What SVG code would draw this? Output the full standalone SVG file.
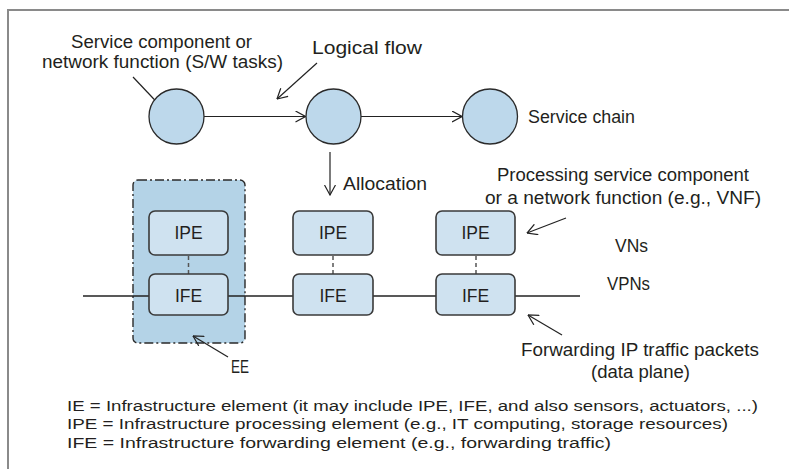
<svg xmlns="http://www.w3.org/2000/svg" width="789" height="469" viewBox="0 0 789 469">
<style>
text{font-family:"Liberation Sans","Open Sans",sans-serif;fill:#231f20}
.lbl{font-size:17.5px}
.box{font-size:17.5px;text-anchor:middle}
.leg{font-size:15.5px}
.circ{fill:#bdd8eb;stroke:#2a2a2a;stroke-width:1.3}
.el{fill:#cfe2f0;stroke:#3a3a3a;stroke-width:1.6}
.ln{stroke:#222;stroke-width:1.3;fill:none}
.arw{stroke:#222;stroke-width:1.2;fill:none;marker-end:url(#ah)}
.dsh{stroke:#555;stroke-width:1.5;stroke-dasharray:4 3;fill:none}
</style>
<defs>
<marker id="ah" viewBox="0 0 11 12" refX="10.5" refY="6" markerWidth="11" markerHeight="12" markerUnits="userSpaceOnUse" orient="auto">
<path d="M0.5,0.5 L10.5,6 L0.5,11.5" fill="none" stroke="#222" stroke-width="1.2"/>
</marker>
</defs>
<g id="frame">
<path d="M8,469 L8,10 L789,10" fill="none" stroke="#8a8a8a" stroke-width="2"/>
</g>
<g id="ee">
<rect x="133" y="180" width="112" height="163" rx="5" fill="#b4d3e7" stroke="#2a2a2a" stroke-width="1.4" stroke-dasharray="9 3 2 3"/>
</g>
<g id="connectors">
<line class="ln" x1="83" y1="296" x2="580" y2="296"/>
<line class="arw" x1="204" y1="116.5" x2="305.5" y2="116.5"/>
<line class="arw" x1="361" y1="116.5" x2="462" y2="116.5"/>
<line class="arw" x1="330" y1="152" x2="330" y2="195"/>
<line class="arw" x1="133" y1="77" x2="168" y2="114"/>
<line class="arw" x1="317" y1="63" x2="277" y2="99"/>
<line class="arw" x1="566" y1="218" x2="527" y2="233"/>
<line class="arw" x1="562" y1="335" x2="528" y2="315"/>
<line class="arw" x1="228" y1="357" x2="193" y2="336"/>
<line class="dsh" x1="188.5" y1="256" x2="188.5" y2="274"/>
<line class="dsh" x1="333" y1="256" x2="333" y2="274"/>
<line class="dsh" x1="476" y1="256" x2="476" y2="274"/>
</g>
<g id="c1"><circle class="circ" cx="176.5" cy="116.5" r="27.5"/></g>
<g id="c2"><circle class="circ" cx="333.5" cy="116.5" r="27.5"/></g>
<g id="c3"><circle class="circ" cx="490" cy="116.5" r="27.5"/></g>
<g id="ipe1"><rect class="el" x="149" y="211" width="79" height="44" rx="6"/><text class="box" x="188.5" y="239">IPE</text></g>
<g id="ife1"><rect class="el" x="149" y="274" width="79" height="41" rx="6"/><text class="box" x="188.5" y="302">IFE</text></g>
<g id="ipe2"><rect class="el" x="293" y="211" width="80" height="44" rx="6"/><text class="box" x="333" y="239">IPE</text></g>
<g id="ife2"><rect class="el" x="293" y="274" width="80" height="41" rx="6"/><text class="box" x="333" y="302">IFE</text></g>
<g id="ipe3"><rect class="el" x="436" y="211" width="79" height="44" rx="6"/><text class="box" x="475.5" y="239">IPE</text></g>
<g id="ife3"><rect class="el" x="436" y="274" width="79" height="41" rx="6"/><text class="box" x="475.5" y="302">IFE</text></g>
<g id="labels">
<text class="lbl" x="71" y="48" textLength="181" lengthAdjust="spacingAndGlyphs">Service component or</text>
<text class="lbl" x="42" y="68" textLength="241" lengthAdjust="spacingAndGlyphs">network function (S/W tasks)</text>
<text class="lbl" x="312" y="54" textLength="110" lengthAdjust="spacingAndGlyphs">Logical flow</text>
<text class="lbl" x="528" y="123" textLength="107" lengthAdjust="spacingAndGlyphs">Service chain</text>
<text class="lbl" x="343" y="190" textLength="84" lengthAdjust="spacingAndGlyphs">Allocation</text>
<text class="lbl" x="497" y="181" textLength="252" lengthAdjust="spacingAndGlyphs">Processing service component</text>
<text class="lbl" x="485" y="204" textLength="276" lengthAdjust="spacingAndGlyphs">or a network function (e.g., VNF)</text>
<text class="lbl" x="615" y="252" textLength="33" lengthAdjust="spacingAndGlyphs">VNs</text>
<text class="lbl" x="607" y="290" textLength="43" lengthAdjust="spacingAndGlyphs">VPNs</text>
<text class="lbl" x="521" y="356" textLength="238" lengthAdjust="spacingAndGlyphs">Forwarding IP traffic packets</text>
<text class="lbl" x="591" y="378" textLength="99" lengthAdjust="spacingAndGlyphs">(data plane)</text>
<text class="lbl" x="231" y="373" textLength="18" lengthAdjust="spacingAndGlyphs">EE</text>
</g>
<g id="legend">
<text class="leg" x="67" y="411" textLength="691" lengthAdjust="spacingAndGlyphs">IE = Infrastructure element (it may include IPE, IFE, and also sensors, actuators, ...)</text>
<text class="leg" x="67" y="429" textLength="661" lengthAdjust="spacingAndGlyphs">IPE = Infrastructure processing element (e.g., IT computing, storage resources)</text>
<text class="leg" x="67" y="448" textLength="544" lengthAdjust="spacingAndGlyphs">IFE = Infrastructure forwarding element (e.g., forwarding traffic)</text>
</g>
</svg>
